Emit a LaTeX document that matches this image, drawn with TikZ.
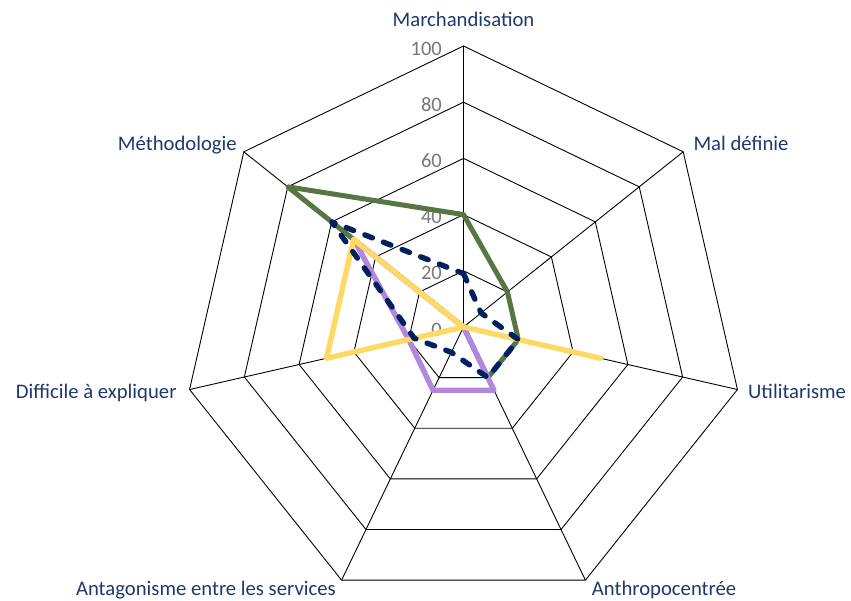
\documentclass[tikz,border=0pt]{standalone}
\usepackage{fontspec}
\setmainfont{Carlito}
\definecolor{labelblue}{RGB}{31,56,110}
\definecolor{tickgray}{RGB}{118,118,118}
\definecolor{sgreen}{RGB}{88,118,68}
\definecolor{spurple}{RGB}{178,135,222}
\definecolor{syellow}{RGB}{255,217,102}
\definecolor{snavy}{RGB}{0,32,96}
\def\u{2.81}
\def\aA{90}
\def\aB{38.5714}
\def\aC{-12.8571}
\def\aD{-64.2857}
\def\aE{-115.7143}
\def\aF{-167.1429}
\def\aG{141.4286}
\begin{document}
\begin{tikzpicture}[x=1pt,y=1pt,
  gridline/.style={draw=black,line width=0.9pt,line join=miter},
  series/.style={line width=5.4pt,line join=round,line cap=round},
  lbl/.style={text=labelblue,font=\fontsize{20.7}{25}\selectfont,inner sep=0pt},
  ticklbl/.style={text=tickgray,font=\fontsize{20.5}{25}\selectfont,inner sep=0pt,anchor=east}]
\useasboundingbox (0,0) rectangle (851,600);
\begin{scope}[shift={(463.5,273)}]
  \foreach \r in {20,40,60,80,100}{
    \draw[gridline] (\aA:{\r*\u}) -- (\aB:{\r*\u}) -- (\aC:{\r*\u}) -- (\aD:{\r*\u}) -- (\aE:{\r*\u}) -- (\aF:{\r*\u}) -- (\aG:{\r*\u}) -- cycle;
  }
  \foreach \a in {\aA,\aB,\aC,\aD,\aE,\aF,\aG}{
    \draw[gridline] (0,0) -- (\a:{100*\u});
  }
\end{scope}
\foreach \v in {0,20,40,60,80,100}{
  \node[ticklbl] (t\v) at (442,{270.5+\v*\u}) {\v};
}
\begin{scope}[shift={(463.5,273)}]
  \draw[series,draw=sgreen,line width=5pt] (\aA:{40*\u}) -- (\aB:{20*\u}) -- (\aC:{20*\u}) -- (\aD:{20*\u}) -- (0,0) -- (\aG:{80*\u}) -- cycle;
  \draw[series,draw=spurple] (0,0) -- (\aD:{25*\u}) -- (\aE:{25*\u}) -- (\aF:{20*\u}) -- (\aG:{50*\u}) -- cycle;
  \draw[series,draw=syellow] (0,0) -- (\aC:{50*\u}) -- (0,0) -- (\aF:{50*\u}) -- (\aG:{50*\u}) -- cycle;
  \draw[series,draw=snavy,dash pattern=on 8pt off 12pt] (\aA:{19*\u}) -- (\aB:{8*\u}) -- (\aC:{20*\u}) -- (\aD:{20*\u}) -- (\aE:{10*\u}) -- (\aF:{18*\u}) -- (\aG:{60*\u}) -- cycle;
\end{scope}
\node[lbl,anchor=base] (lA) at (463.5,573.3) {Marchandisation};
\node[lbl,anchor=base west] (lB) at (693.3,449.3) {Mal définie};
\node[lbl,anchor=base west] (lC) at (748,201.7) {Utilitarisme};
\node[lbl,anchor=base west] (lD) at (591.7,4.8) {Anthropocentrée};
\node[lbl,anchor=base east] (lE) at (336,4.8) {Antagonisme entre les services};
\node[lbl,anchor=base east] (lF) at (176.7,201.7) {Difficile à expliquer};
\node[lbl,anchor=base east] (lG) at (237,449.3) {Méthodologie};
\end{tikzpicture}
\end{document}
